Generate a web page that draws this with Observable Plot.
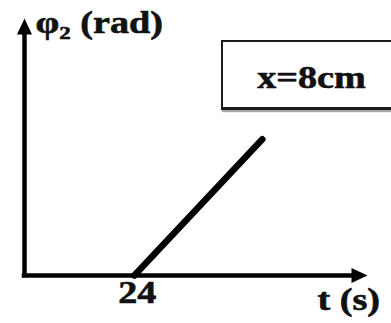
<!DOCTYPE html>
<html>
<head>
<meta charset="utf-8">
<script src="https://cdn.jsdelivr.net/npm/d3@7"></script>
<script src="https://cdn.jsdelivr.net/npm/@observablehq/plot@0.6"></script>
<style>
  html, body { margin: 0; padding: 0; background: white; overflow: hidden; }
  #wrap { position: relative; width: 391px; height: 323px; overflow: hidden; }
  #note {
    position: absolute; left: 221px; top: 40px; width: 180px; height: 65px;
    border: 2.5px solid #1c1c1c; border-bottom-width: 3px;
    box-shadow: 1px 2px 1px rgba(0,0,0,0.35);
    background: white;
  }
  #wrap svg { position: absolute; left: 0; top: 0; }
  #wrap svg text { font-family: "Liberation Serif", "Times New Roman", Times, serif; }
</style>
</head>
<body>
<div id="wrap"><div id="note"></div></div>
<script>
// Phase φ2 at x = 8 cm: zero until t = 24 s, then rising linearly
const tValues = [24, 52];
const phiValues = [0, 5.3];
const tDomain = [0, 75];
const phiDomain = [0, 10];
const xTicks = [24];

const yLabel = "φ₂ (rad)";
const xLabel = "t (s)";
const note = "x=8cm";

const phase = tValues.map((t, i) => ({t, phi: phiValues[i]}));

// filled arrowhead with its tip at the origin, pointing up
const arrowHead = {
  draw(context) {
    context.moveTo(0, 0);
    context.lineTo(-7.5, 16);
    context.lineTo(7.5, 16);
    context.closePath();
  }
};

const font = {
  fontFamily: "Liberation Serif, Times New Roman, serif",
  fontWeight: "bold",
  fontSize: 31,
  fill: "#111",
  stroke: "#111",
  strokeWidth: 0.6
};

const chart = Plot.plot({
  width: 391,
  height: 323,
  marginLeft: 24,
  marginRight: 24,
  marginTop: 18,
  marginBottom: 48,
  style: {background: "transparent"},
  x: {domain: tDomain, axis: null},
  y: {domain: phiDomain, axis: null},
  marks: [
    // axes with arrowheads
    Plot.ruleY([phiDomain[0]], {x1: tDomain[0], x2: tDomain[1] - 3, stroke: "#000", strokeWidth: 4.5, strokeLinecap: "square"}),
    Plot.ruleX([tDomain[0]], {y1: phiDomain[0], y2: phiDomain[1] - 0.5, stroke: "#000", strokeWidth: 4.5, strokeLinecap: "square"}),
    Plot.dot([[tDomain[0], phiDomain[1]]], {x: d => d[0], y: d => d[1], symbol: arrowHead, fill: "#000", stroke: "none"}),
    Plot.dot([[tDomain[1], phiDomain[0]]], {x: d => d[0], y: d => d[1], symbol: arrowHead, rotate: 90, fill: "#000", stroke: "none"}),
    // phase line
    Plot.line(phase, {x: "t", y: "phi", stroke: "#000", strokeWidth: 6.5, strokeLinecap: "round"}),
    // tick label
    Plot.text(xTicks, {x: d => d, y: phiDomain[0], text: d => String(d), dx: 3, dy: 18, textAnchor: "middle", lineAnchor: "middle", ...font}),
    // axis titles and note
    Plot.text([yLabel], {frameAnchor: "top-left", dx: 11, dy: 5, textAnchor: "start", lineAnchor: "middle", ...font}),
    Plot.text([xLabel], {frameAnchor: "bottom-right", dx: -50, dy: 25, textAnchor: "start", lineAnchor: "middle", ...font}),
    Plot.text([note], {frameAnchor: "top-right", dx: -56, dy: 60, textAnchor: "middle", lineAnchor: "middle", ...font})
  ]
});

document.getElementById("wrap").appendChild(chart);

// widen the bold serif lettering
chart.querySelectorAll("text").forEach(el => {
  const w = el.getComputedTextLength();
  if (w > 0) {
    el.setAttribute("textLength", (w * 1.23).toFixed(1));
    el.setAttribute("lengthAdjust", "spacingAndGlyphs");
  }
});
</script>
</body>
</html>
